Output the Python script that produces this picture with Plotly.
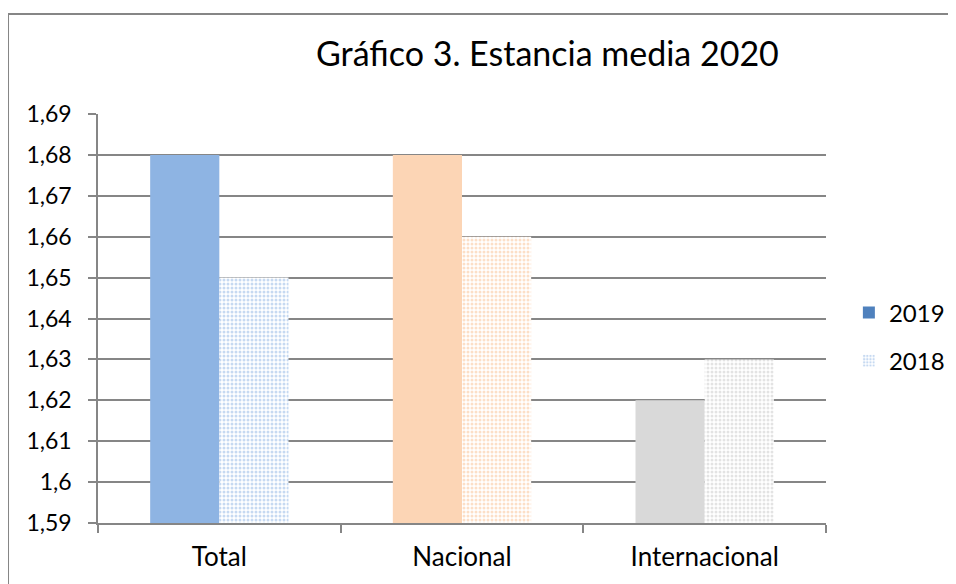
import plotly.graph_objects as go

categories = ["Total", "Nacional", "Internacional"]
values_2019 = [1.68, 1.68, 1.62]
values_2018 = [1.65, 1.66, 1.63]
colors_2019 = ["#8EB4E3", "#FCD5B5", "#D9D9D9"]
colors_2018 = ["#8EB4E3", "#FAC090", "#C8C8C8"]
legend_2019_color = "#4F81BD"
y_ticks = [1.59, 1.60, 1.61, 1.62, 1.63, 1.64, 1.65, 1.66, 1.67, 1.68, 1.69]
y_tick_labels = ["1,59", "1,6", "1,61", "1,62", "1,63", "1,64", "1,65", "1,66", "1,67", "1,68", "1,69"]

FONT = "Lato"
GRID = "#868686"

fig = go.Figure()
fig.add_trace(go.Bar(
    x=categories, y=values_2019, name="2019", offsetgroup="a",
    marker=dict(color=colors_2019, line=dict(width=0)),
    showlegend=False,
))
# entrada de leyenda con el azul oscuro
fig.add_trace(go.Bar(
    x=[categories[0]], y=[None], name="2019", offsetgroup="a", legendgroup="g19",
    marker=dict(color=legend_2019_color, line=dict(width=0)),
))
fig.add_trace(go.Bar(
    x=categories, y=values_2018, name="2018", offsetgroup="b", legendgroup="g18",
    marker=dict(
        color="white",
        line=dict(width=0),
        pattern=dict(shape=".", fgcolor=colors_2018, bgcolor="white",
                     size=4, solidity=0.45, fillmode="overlay"),
    ),
))

# la página tiene 8px de margen en body: se compensa en los márgenes
fig.update_layout(
    width=948, height=576,
    paper_bgcolor="white", plot_bgcolor="white",
    font=dict(family=FONT, color="#000000", size=24),
    barmode="group", bargap=0.43, bargroupgap=0,
    margin=dict(l=90, r=130, t=106, b=61),
    title=dict(text="Gráfico 3. Estancia media 2020", x=0.569, xanchor="center",
               y=0.92, yanchor="middle", font=dict(size=34, family=FONT)),
    legend=dict(xref="container", yref="container", x=0.887, y=0.429,
                xanchor="left", yanchor="middle",
                font=dict(size=24), tracegroupgap=14, itemwidth=30,
                bgcolor="rgba(0,0,0,0)"),
    shapes=[
        dict(type="line", xref="paper", yref="paper", x0=-0.1236, x1=1.3,
             y0=1.2445, y1=1.2445, line=dict(color=GRID, width=2)),
        dict(type="line", xref="paper", yref="paper", x0=-0.1236, x1=-0.1236,
             y0=1.2445, y1=-0.3, line=dict(color=GRID, width=2)),
    ],
)
fig.update_xaxes(
    showgrid=False, showline=True, linecolor=GRID, linewidth=1.5,
    ticks="outside", tickson="boundaries", ticklen=8, tickcolor=GRID, tickwidth=1.5,
    tickfont=dict(size=26), ticklabelstandoff=10, fixedrange=True, automargin=False,
)
fig.update_yaxes(
    range=[1.59, 1.69], tickvals=y_ticks, ticktext=y_tick_labels,
    showgrid=True, gridcolor=GRID, gridwidth=1.5,
    showline=True, linecolor=GRID, linewidth=1.5,
    ticks="outside", ticklen=8, tickcolor=GRID, tickwidth=1.5,
    tickfont=dict(size=23), ticklabelstandoff=12, zeroline=False, fixedrange=True,
    automargin=False,
)

fig.write_html("out.html")
